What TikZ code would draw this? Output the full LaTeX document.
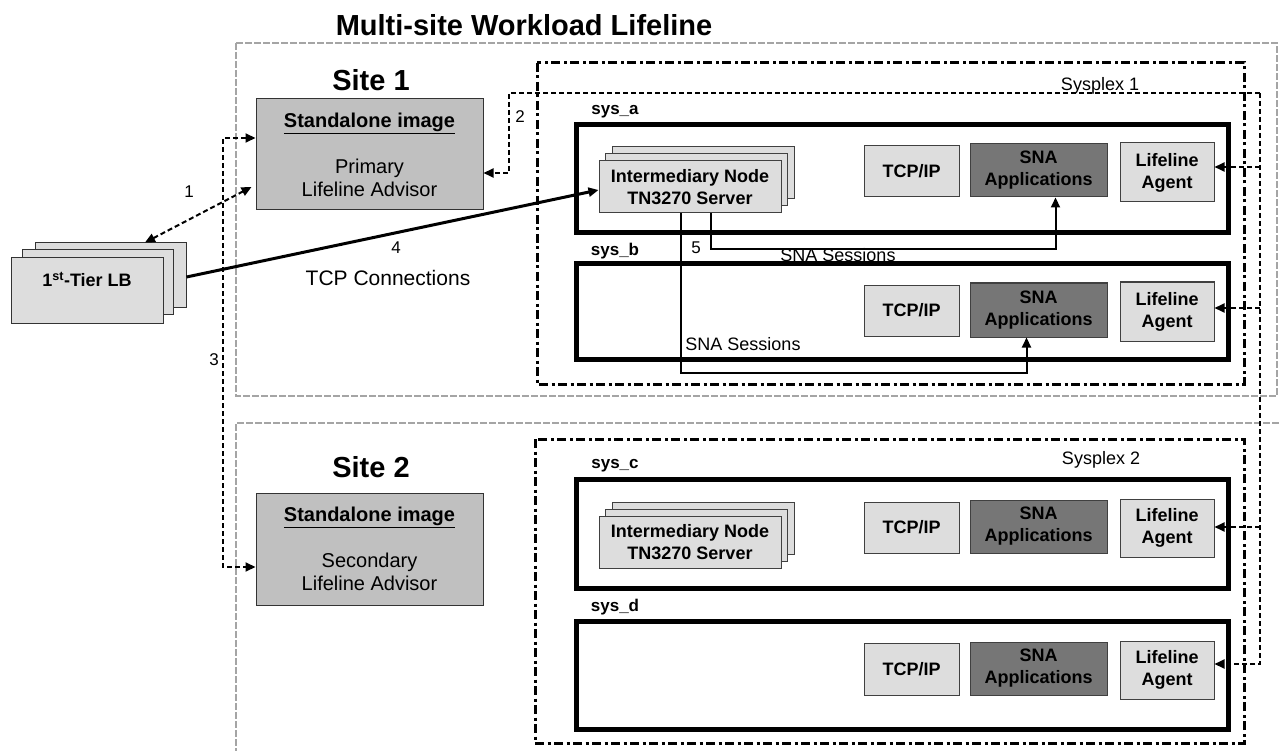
\documentclass[tikz,border=0pt]{standalone}
\usepackage{fontspec}
\setmainfont{Liberation Sans}
\usetikzlibrary{arrows.meta,calc}
\definecolor{advgray}{RGB}{192,192,192}
\definecolor{lightbx}{RGB}{221,221,221}
\definecolor{darkbx}{RGB}{118,118,118}
\definecolor{sitegray}{RGB}{165,165,165}
\begin{document}
\begin{tikzpicture}[x=1pt,y=-1pt,
  sitebox/.style={draw=sitegray, line width=2.4pt, dash pattern=on 7pt off 2pt},
  plexbox/.style={draw=black, line width=3pt, dash pattern=on 9pt off 3.5pt on 3pt off 3.5pt},
  sysbox/.style={draw=black, line width=5pt},
  advbox/.style={draw=black!80, line width=1pt, fill=advgray, minimum width=227pt, minimum height=111pt, inner sep=0pt, align=center, text=black, font=\fontsize{20}{23}\selectfont},
  lightbox/.style={draw=black!75, line width=1pt, fill=lightbx, inner sep=0pt, align=center, text=black, font=\fontsize{18}{22}\selectfont\bfseries},
  darkbox/.style={lightbox, fill=darkbx, text=black},
  intbox/.style={lightbox, minimum width=182pt, minimum height=52pt},
  lbbox/.style={draw=black!80, line width=1pt, fill=lightbx, minimum width=152pt, minimum height=65pt, inner sep=0pt, font=\fontsize{18}{22}\selectfont\bfseries},
  sitelabel/.style={font=\fontsize{29}{34}\selectfont\bfseries},
  plexlabel/.style={font=\fontsize{18}{22}\selectfont},
  syslabel/.style={font=\fontsize{17}{20}\selectfont\bfseries},
  numlabel/.style={font=\fontsize{17}{20}\selectfont},
  sesslabel/.style={font=\fontsize{18}{22}\selectfont},
  lldash/.style={draw=black, line width=2pt, dash pattern=on 5pt off 3pt},
  arr/.style={-{Triangle[length=10pt,width=9pt]}},
  darr/.style={{Triangle[length=10pt,width=9pt]}-{Triangle[length=10pt,width=9pt]}},
  sess/.style={draw=black, line width=2pt, -{Triangle[length=10pt,width=9pt]}}
]
\useasboundingbox (0,0) rectangle (1279,751);

% title
\node[font=\fontsize{29}{34}\selectfont\bfseries] (title) at (524,25) {Multi-site Workload Lifeline};

% sites
\draw[sitebox] (236,43) rectangle (1277,396);
\draw[sitebox] (1279,423) -- (236,423) -- (236,751);
\node[sitelabel] (s1) at (371,80) {Site 1};
\node[sitelabel] (s2) at (371,467) {Site 2};

% sysplexes
\draw[plexbox] (537,63) rectangle (1244,384);
\draw[plexbox] (535,439) rectangle (1244,743);
\node[plexlabel] (px1) at (1100,86) {Sysplex 1};
\node[plexlabel] (px2) at (1101,460) {Sysplex 2};

% systems
\draw[sysbox] (576,125) rectangle (1228,233);
\draw[sysbox] (576,264) rectangle (1228,359);
\draw[sysbox] (576,479) rectangle (1228,588);
\draw[sysbox] (576,621) rectangle (1228,729);
\node[syslabel] (sa) at (615,112) {sys\_a};
\node[syslabel] (sb) at (615,251) {sys\_b};
\node[syslabel] (sc) at (615,466) {sys\_c};
\node[syslabel] (sd) at (615,607) {sys\_d};

% advisors
\node[advbox] (adv1) at (369.5,154.5) {\textbf{\underline{Standalone image}}\\[23pt]Primary\\Lifeline Advisor};
\node[advbox, minimum height=112pt] (adv2) at (369.5,549) {\textbf{\underline{Standalone image}}\\[23pt]Secondary\\Lifeline Advisor};

% 1st tier LB
\node[lbbox, minimum width=151pt, minimum height=64pt] (lbB) at (110.5,275) {};
\node[lbbox, minimum width=151pt, minimum height=64pt] (lbM) at (97.5,282) {};
\node[lbbox, text height=13pt, text depth=21pt] (lbF) at (87,290.5) {1\textsuperscript{st}-Tier LB};

% intermediary nodes
\node[intbox] (intAb) at (703,173) {};
\node[intbox] (intAm) at (696.5,180) {};
\node[intbox] (intA) at (690,187) {Intermediary Node\\TN3270 Server};
\node[intbox] (intCb) at (703,528.5) {};
\node[intbox] (intCm) at (696.5,535.5) {};
\node[intbox] (intC) at (690,542.5) {Intermediary Node\\TN3270 Server};

% sys_a
\node[lightbox, minimum width=95pt, minimum height=51pt] (tcpA) at (911.5,171.5) {TCP/IP};
\node[darkbox, minimum width=137pt, minimum height=53pt] (snaA) at (1038.5,170.5) {SNA\\Applications};
\node[lightbox, minimum width=94pt, minimum height=59pt] (agA) at (1167,172.5) {Lifeline\\Agent};
% sys_b
\node[lightbox, minimum width=95pt, minimum height=51pt] (tcpB) at (911.5,310.5) {TCP/IP};
\node[darkbox, minimum width=137pt, minimum height=54pt] (snaB) at (1038.5,310) {SNA\\Applications};
\node[lightbox, minimum width=94pt, minimum height=59pt] (agB) at (1167,311.5) {Lifeline\\Agent};
% sys_c
\node[lightbox, minimum width=95pt, minimum height=51pt] (tcpC) at (911.5,527.5) {TCP/IP};
\node[darkbox, minimum width=137pt, minimum height=53pt] (snaC) at (1038.5,526.5) {SNA\\Applications};
\node[lightbox, minimum width=94pt, minimum height=58pt] (agC) at (1167,528) {Lifeline\\Agent};
% sys_d
\node[lightbox, minimum width=95pt, minimum height=52pt] (tcpD) at (911.5,669) {TCP/IP};
\node[darkbox, minimum width=137pt, minimum height=53pt] (snaD) at (1038.5,668.5) {SNA\\Applications};
\node[lightbox, minimum width=94pt, minimum height=58pt] (agD) at (1167,670) {Lifeline\\Agent};

% lifeline dashed connectors
\coordinate (lt) at (1260,93);
\coordinate (lc) at (509,93);
\coordinate (ja) at (1260,167);
\coordinate (jb) at (1260,308);
\coordinate (jc) at (1260,527);
\coordinate (jd) at (1260,664);
\draw[lldash, arr] (lt) -- (lc) |- ($(adv1.east)+(0,18.5)$);
\draw[lldash, arr] (lt) -- (jd) -- (jd -| agD.east);
\draw[lldash, arr] (ja) -- (ja -| agA.east);
\draw[lldash, arr] (jb) -- (jb -| agB.east);
\draw[lldash, arr] (jc) -- (jc -| agC.east);

% arrow 1
\draw[lldash, darr] ($(adv1.west)+(-4,32.5)$) -- ($(lbB.north)+(34.5,0)$);
% arrow 3
\coordinate (c3) at (223,400);
\draw[lldash, darr] ($(adv1.west)+(0,-16.5)$) -| (c3) |- ($(adv2.west)+(0,18)$);

% TCP connections
\draw[line width=3pt, arr] ($(lbB.east)+(0,2)$) -- ($(intA.west)+(0,3)$);

% SNA sessions
\coordinate (s1c) at (900,249);
\coordinate (s2c) at (900,373);
\draw[sess] ($(intA.south)+(20.5,0)$) |- (s1c) -| ($(snaA.south)+(17,0)$);
\draw[sess] ($(intA.south)+(-9,0)$) |- (s2c) -| ($(snaB.south)+(-12,0)$);

% labels
\node[numlabel] (n1) at (189,192) {1};
\node[numlabel] (n2) at (520,117) {2};
\node[numlabel] (n3) at (214,360) {3};
\node[numlabel] (n4) at (396,248) {4};
\node[numlabel] (n5) at (696,248) {5};
\node[font=\fontsize{21}{25}\selectfont] (tcpc) at (388,278) {TCP Connections};
\node[sesslabel] (ss1) at (838,255) {SNA Sessions};
\node[sesslabel] (ss2) at (743,344) {SNA Sessions};
\end{tikzpicture}
\end{document}
